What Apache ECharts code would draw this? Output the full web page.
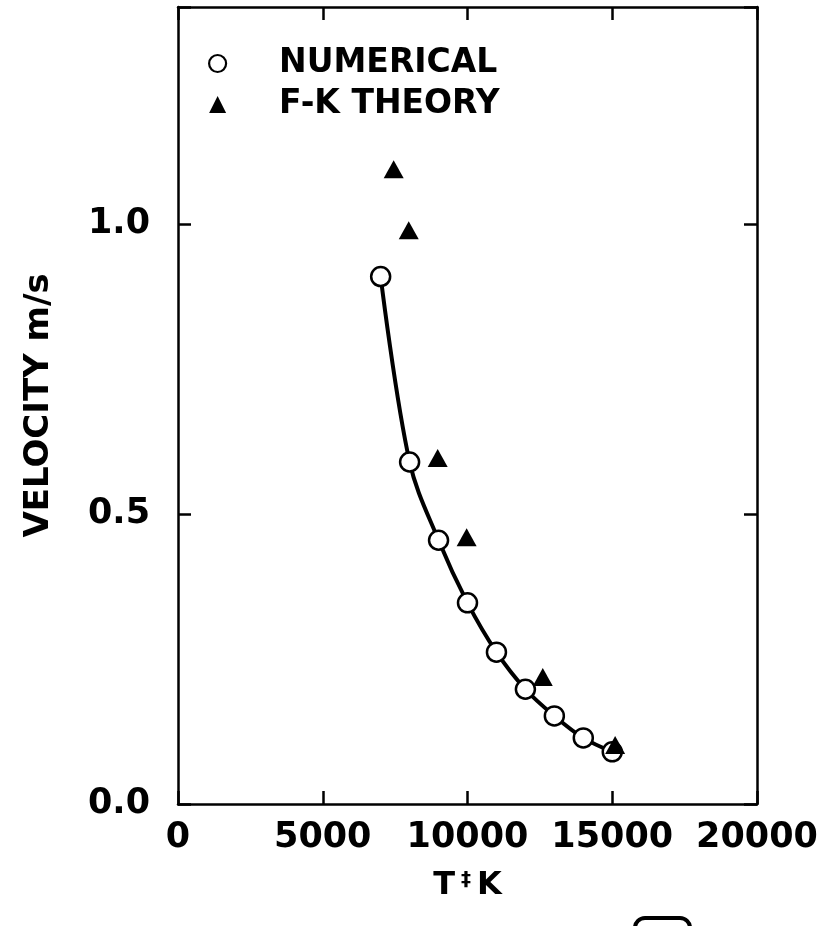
<!DOCTYPE html>
<html>
<head>
<meta charset="utf-8">
<script src="https://cdn.jsdelivr.net/npm/echarts@6/dist/echarts.min.js"></script>
<style>html,body{margin:0;padding:0;background:#fff}#c{width:826px;height:926px}</style>
</head>
<body>
<div id="c"></div>
<script>
// Data
const numericalT = [7000, 8000, 9000, 10000, 11000, 12000, 13000, 14000, 15000];
const numericalV = [0.91, 0.59, 0.455, 0.347, 0.262, 0.198, 0.152, 0.114, 0.090];
const fkT = [7450, 7970, 8970, 9970, 12600, 15100];
const fkV = [1.095, 0.99, 0.597, 0.46, 0.219, 0.102];
const xTicks = [0, 5000, 10000, 15000, 20000];
const yTicks = [0, 0.5, 1.0];
const seriesNames = ['NUMERICAL', 'F-K THEORY'];

const FONT = 'DejaVu Sans';
const chart = echarts.init(document.getElementById('c'), null, {renderer: 'canvas'});

const axisLine = {show: true, onZero: false, lineStyle: {color: '#000', width: 2.5}};
const tickIn = {show: true, inside: true, length: 13, lineStyle: {color: '#000', width: 2.5}};

chart.setOption({
  animation: false,
  backgroundColor: '#fff',
  grid: {left: 178, top: 7, right: 69, bottom: 122, containLabel: false},
  legend: {
    orient: 'vertical', left: 203, top: 42, itemWidth: 17, itemHeight: 17, itemGap: 8,
    textStyle: {fontFamily: FONT, fontWeight: 'bold', fontSize: 33, color: '#000', padding: [0, 0, 0, 48]},
    data: [
      {name: seriesNames[0], icon: 'circle', itemStyle: {color: '#fff', borderColor: '#000', borderWidth: 2.2, opacity: 1}},
      {name: seriesNames[1], icon: 'triangle', itemStyle: {color: '#000', borderWidth: 0, opacity: 1}}
    ]
  },
  xAxis: [
    {
      type: 'value', min: 0, max: 20000, interval: 5000, position: 'bottom',
      axisLine: axisLine, axisTick: tickIn, splitLine: {show: false},
      axisLabel: {margin: 16, fontFamily: FONT, fontWeight: 'bold', fontSize: 35, color: '#000',
        formatter: v => xTicks.includes(v) ? String(v) : ''},
      name: '{t|T}{d|‡}{t|K}', nameLocation: 'middle', nameGap: 66,
      nameTextStyle: {rich: {
        t: {fontFamily: FONT, fontWeight: 'bold', fontSize: 32, color: '#000'},
        d: {fontFamily: FONT, fontWeight: 'bold', fontSize: 20, color: '#000', verticalAlign: 'top', padding: [0, 6, 8, 6]}
      }}
    },
    {
      type: 'value', min: 0, max: 20000, interval: 5000, position: 'top',
      axisLine: axisLine, axisTick: tickIn, axisLabel: {show: false}, splitLine: {show: false}
    }
  ],
  yAxis: [
    {
      type: 'value', min: 0, max: 1.375, interval: 0.5, position: 'left',
      axisLine: axisLine, axisTick: tickIn, splitLine: {show: false},
      axisLabel: {margin: 28, fontFamily: FONT, fontWeight: 'bold', fontSize: 35, color: '#000',
        formatter: v => yTicks.some(t => Math.abs(t - v) < 1e-9) ? v.toFixed(1) : ''},
      name: 'VELOCITY m/s', nameLocation: 'middle', nameGap: 122, nameRotate: 90,
      nameTextStyle: {fontFamily: FONT, fontWeight: 'bold', fontSize: 34, color: '#000'}
    },
    {
      type: 'value', min: 0, max: 1.375, interval: 0.5, position: 'right',
      axisLine: axisLine, axisTick: tickIn, axisLabel: {show: false}, splitLine: {show: false}
    }
  ],
  series: [
    {
      name: seriesNames[0], type: 'line', smooth: 0.35, z: 2,
      data: numericalT.map((t, i) => [t, numericalV[i]]),
      symbol: 'circle', symbolSize: 19,
      itemStyle: {color: '#fff', borderColor: '#000', borderWidth: 2.5, opacity: 1},
      lineStyle: {color: '#000', width: 4}
    },
    {
      name: seriesNames[1], type: 'scatter', z: 3,
      data: fkT.map((t, i) => [t, fkV[i]]),
      symbol: 'triangle', symbolSize: [20, 18],
      itemStyle: {color: '#000', opacity: 1}
    }
  ],
  graphic: [
    {type: 'rect', shape: {x: 635, y: 918, width: 55, height: 30, r: 10},
     style: {fill: 'none', stroke: '#000', lineWidth: 4}, silent: true}
  ]
});
</script>
</body>
</html>
